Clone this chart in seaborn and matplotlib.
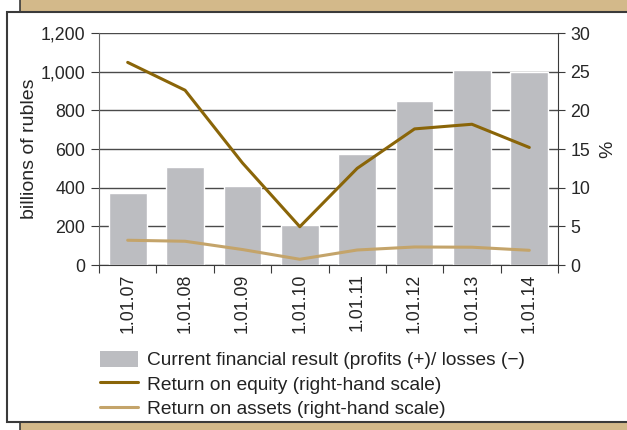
import matplotlib
matplotlib.use("Agg")
import matplotlib.pyplot as plt
from matplotlib.patches import Rectangle, Patch
from matplotlib.lines import Line2D
import seaborn as sns
import pandas as pd

# data
dates = ["1.01.07", "1.01.08", "1.01.09", "1.01.10", "1.01.11", "1.01.12", "1.01.13", "1.01.14"]
fin_result = [372, 507, 409, 207, 574, 848, 1008, 997]
roe = [26.2, 22.6, 13.2, 4.95, 12.5, 17.6, 18.2, 15.2]
roa = [3.2, 3.07, 2.0, 0.74, 1.94, 2.33, 2.3, 1.9]

df = pd.DataFrame({"date": dates, "result": fin_result, "roe": roe, "roa": roa})

bar_col = "#BCBDC1"
roe_col = "#8A6508"
roa_col = "#C4A46A"
tan = "#D3B98A"
dark = "#3A3A3A"

sns.set_style("white")
plt.rcParams["font.family"] = ["Liberation Sans", "DejaVu Sans"]
plt.rcParams["font.size"] = 12.8
plt.rcParams["text.color"] = "#222222"

fig = plt.figure(figsize=(6.27, 4.3), dpi=100)
fig.patch.set_facecolor("white")

# background frame: tan card behind a white panel
fig.add_artist(Rectangle((20 / 627, -0.05), 1.2, 1.2, transform=fig.transFigure,
                         facecolor=tan, edgecolor=dark, lw=1.2, zorder=-20))
fig.add_artist(Rectangle((7 / 627, 8 / 430), 1.2, 410 / 430, transform=fig.transFigure,
                         facecolor="white", edgecolor=dark, lw=1.5, zorder=-10))

ax = fig.add_axes([99 / 627, 1 - 265 / 430, 459 / 627, 232 / 430])
ax.set_facecolor("none")

sns.barplot(data=df, x="date", y="result", color=bar_col, width=0.66,
            saturation=1, ax=ax, zorder=2)
ax.set_ylim(0, 1200)
ax.set_xlim(-0.5, len(dates) - 0.5)
ax.set_yticks(range(0, 1201, 200))
ax.set_yticklabels([f"{v:,}" for v in range(0, 1201, 200)])
ax.grid(axis="y", color="#4A4A4A", lw=1.0)
ax.set_axisbelow(True)
ax.set_xlabel("")
ax.set_ylabel("billions of rubles", fontsize=14)
ax.yaxis.set_label_coords(-0.133, 0.5)

ax.set_xticks([i - 0.5 for i in range(len(dates) + 1)], minor=False)
ax.set_xticklabels([""] * (len(dates) + 1))
ax.set_xticks(range(len(dates)), minor=True)
ax.set_xticklabels(dates, minor=True, rotation=90)
ax.tick_params(axis="x", which="major", length=6, color=dark, direction="out", bottom=True)
ax.tick_params(axis="x", which="minor", length=0, pad=6)
ax.tick_params(axis="y", length=6, color=dark, direction="out", left=True, pad=4)

for s in ["top", "right"]:
    ax.spines[s].set_visible(False)
ax.spines["left"].set_color("#666666")
ax.spines["bottom"].set_color(dark)

ax2 = ax.twinx()
sns.lineplot(data=df, x="date", y="roe", color=roe_col, lw=2.2, ax=ax2, sort=False)
sns.lineplot(data=df, x="date", y="roa", color=roa_col, lw=2.2, ax=ax2, sort=False)
ax2.set_ylim(0, 30)
ax2.set_xlim(-0.5, len(dates) - 0.5)
ax2.set_yticks(range(0, 31, 5))
ax2.set_ylabel("%", fontsize=14)
ax2.yaxis.set_label_coords(1.089, 0.5)
ax2.tick_params(axis="y", length=5, color=dark, direction="out", right=True, pad=4)
for s in ["top", "left", "bottom"]:
    ax2.spines[s].set_visible(False)
ax2.spines["right"].set_color(dark)

handles = [
    Patch(facecolor=bar_col, edgecolor="none", label="Current financial result (profits (+)/ losses (\u2212)"),
    Line2D([0], [0], color=roe_col, lw=2.2, label="Return on equity (right-hand scale)"),
    Line2D([0], [0], color=roa_col, lw=2.2, label="Return on assets (right-hand scale)"),
]
fig.legend(handles=handles, loc="upper left", bbox_to_anchor=(92 / 627, 1 - 343 / 430),
           frameon=False, fontsize=13.8, handlelength=2.0, handleheight=0.9,
           handletextpad=0.45, labelspacing=0.3, borderaxespad=0)

fig.savefig("out.png", dpi=100)
